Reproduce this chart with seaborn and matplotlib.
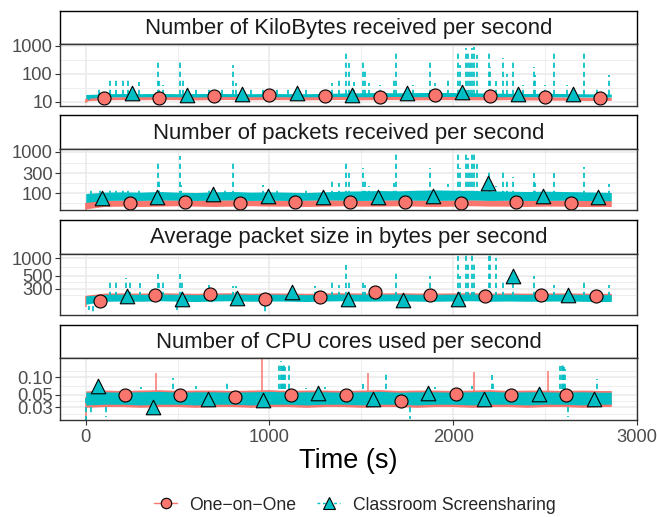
import numpy as np
import pandas as pd
import matplotlib
matplotlib.use("Agg")
import matplotlib.pyplot as plt
from matplotlib.lines import Line2D
import seaborn as sns

sns.set_theme(style="white")
plt.rcParams["font.family"] = ["Liberation Sans", "DejaVu Sans"]

RED = "#F8766D"
CYAN = "#00BFC4"

# ---------------- data ----------------
titles = ["Number of KiloBytes received per second",
          "Number of packets received per second",
          "Average packet size in bytes per second",
          "Number of CPU cores used per second"]
series = ["One\u2212on\u2212One", "Classroom Screensharing"]

x_ticks = [0, 1000, 2000, 3000]
x_ticklabels = ["0", "1000", "2000", "3000"]
y_ticks = [[10, 100, 1000], [100, 300, 1000], [300, 500, 1000], [0.03, 0.05, 0.10]]
y_ticklabels = [["10", "100", "1000"], ["100", "300", "1000"],
                ["300", "500", "1000"], ["0.03", "0.05", "0.10"]]

band_t = [0, 100, 200, 300, 400, 500, 600, 700, 800, 900, 1000, 1100, 1200, 1300, 1400,
          1500, 1600, 1700, 1800, 1900, 2000, 2100, 2200, 2300, 2400, 2500, 2600, 2700, 2800, 2860]

# Panel 1: KiloBytes
p1_red_low = [10.8, 11.6, 11.9, 11.7, 12.0, 11.8, 11.6, 11.9, 12.0, 11.7, 11.9, 11.8, 11.6, 11.9, 12.0,
              11.7, 11.8, 11.9, 11.6, 11.8, 11.9, 11.7, 11.6, 11.8, 11.5, 11.4, 11.3, 11.1, 11.0, 11.2]
p1_red_high = [14.5, 15.0, 15.2, 15.5, 15.3, 15.6, 15.4, 15.2, 15.5, 15.8, 15.5, 15.3, 15.6, 15.5, 15.4,
               15.6, 15.8, 15.5, 15.6, 15.3, 15.5, 15.7, 15.4, 15.5, 15.2, 15.0, 14.8, 14.6, 14.5, 14.5]
p1_cyan_low = [13.0, 14.8, 15.1, 14.9, 15.2, 15.0, 14.8, 15.1, 15.3, 15.0, 15.2, 15.0, 14.9, 15.1, 15.3,
               15.0, 15.2, 15.4, 15.1, 15.2, 15.4, 15.3, 15.0, 15.2, 15.1, 15.0, 14.9, 14.8, 14.7, 14.6]
p1_cyan_high = [18.0, 19.2, 19.6, 19.4, 19.8, 19.3, 19.5, 19.8, 19.4, 19.3, 19.6, 19.4, 19.3, 19.8, 20.5,
                20.8, 21.2, 20.8, 21.2, 21.6, 21.2, 20.8, 20.4, 20.0, 19.6, 20.0, 19.6, 19.2, 19.0, 18.8]
p1_red_spike_t = [0, 5]
p1_red_spike_v = [9.0, 10.0]
p1_cyan_spike_t = [20, 74, 132, 165, 201, 231, 292, 392, 400, 422, 513, 528, 600, 671, 740, 803, 820,
                   900, 967, 1040, 1100, 1200, 1339, 1381, 1417, 1430, 1460, 1508, 1520, 1544, 1600,
                   1675, 1689, 1780, 1874, 1900, 1969, 2025, 2038, 2069, 2078, 2090, 2101, 2115,
                   2128, 2195, 2201, 2233, 2270, 2292, 2324, 2380, 2437, 2446, 2500, 2546, 2620,
                   2709, 2780, 2850]
p1_cyan_spike_v = [8.0, 31, 60, 58, 60, 58, 50, 268, 55, 40, 330, 60, 32, 35, 30, 205, 45,
                   30, 30, 35, 30, 32, 45, 60, 610, 234, 50, 309, 150, 45, 40,
                   78, 610, 40, 309, 45, 60, 610, 200, 800, 650, 300, 800, 920,
                   450, 700, 180, 55, 355, 100, 309, 40, 178, 90, 40, 610, 40,
                   535, 35, 90]
p1_red_mark_t = [100, 400, 700, 1000, 1300, 1600, 1900, 2200, 2500, 2800]
p1_red_mark_v = [13.9, 13.9, 15.6, 16.9, 15.6, 14.4, 17.8, 16.0, 15.0, 13.9]
p1_cyan_mark_t = [250, 550, 850, 1150, 1450, 1750, 2050, 2350, 2650]
p1_cyan_mark_v = [21.0, 17.4, 18.6, 19.8, 17.4, 21.0, 22.0, 18.8, 19.0]

# Panel 2: packets
p2_red_low = [42, 48, 49, 48, 49, 50, 49, 48, 49, 50, 49, 49, 48, 49, 50,
              49, 49, 50, 49, 48, 49, 50, 49, 49, 48, 49, 49, 48, 48, 48]
p2_red_high = [64, 68, 69, 68, 70, 69, 68, 69, 70, 68, 69, 68, 69, 70, 69,
               68, 69, 70, 69, 68, 69, 70, 68, 69, 68, 68, 69, 68, 67, 67]
p2_cyan_low = [60, 67, 68, 67, 69, 68, 67, 68, 69, 67, 68, 67, 68, 69, 68,
               67, 68, 69, 68, 67, 68, 69, 67, 68, 67, 67, 68, 67, 66, 66]
p2_cyan_high = [98, 106, 108, 106, 110, 106, 104, 108, 110, 106, 108, 106, 104, 108, 112,
                114, 116, 114, 118, 120, 118, 116, 114, 112, 110, 112, 110, 108, 106, 104]
p2_red_spike_t = [0, 4]
p2_red_spike_v = [38, 42]
p2_cyan_spike_t = [30, 75, 130, 165, 201, 231, 292, 392, 398, 400, 513, 520, 671, 760, 803, 967,
                   1040, 1200, 1339, 1381, 1417, 1430, 1508, 1520, 1544, 1675, 1689, 1874, 1969,
                   2025, 2038, 2069, 2078, 2090, 2101, 2115, 2128, 2195, 2201, 2233, 2270, 2292,
                   2324, 2437, 2446, 2546, 2709, 2850]
p2_cyan_spike_v = [125, 130, 135, 128, 130, 128, 125, 525, 210, 150, 790, 160, 125, 140, 630, 158,
                   130, 125, 200, 180, 620, 300, 400, 200, 150, 180, 930, 400, 170,
                   1000, 400, 950, 700, 350, 1000, 1050, 500, 380, 200, 150, 330, 200,
                   250, 300, 180, 300, 420, 170]
p2_red_mark_t = [240, 540, 840, 1140, 1440, 1740, 2040, 2340, 2640]
p2_red_mark_v = [59, 62, 57.5, 62, 60, 60, 59, 60, 58]
p2_cyan_mark_t = [90, 390, 690, 990, 1290, 1590, 1890, 2190, 2490, 2790]
p2_cyan_mark_v = [76, 80, 96, 86, 80, 81, 85, 178, 85, 82]

# Panel 3: average packet size
p3_red_low = [175, 200, 203, 201, 205, 202, 200, 203, 205, 201, 203, 202, 200, 203, 205,
              202, 203, 205, 202, 201, 203, 205, 202, 203, 201, 202, 203, 201, 200, 200]
p3_red_high = [235, 255, 258, 255, 259, 256, 253, 257, 259, 255, 257, 256, 253, 257, 259,
               256, 257, 259, 256, 255, 257, 259, 255, 257, 255, 256, 257, 255, 253, 253]
p3_cyan_low = [165, 185, 187, 185, 189, 186, 183, 187, 189, 185, 187, 186, 183, 187, 189,
               186, 187, 189, 186, 185, 187, 189, 185, 187, 185, 186, 187, 185, 183, 183]
p3_cyan_high = [228, 242, 245, 242, 246, 243, 240, 244, 246, 242, 245, 243, 240, 244, 246,
                243, 245, 246, 243, 242, 245, 246, 242, 244, 242, 243, 245, 242, 240, 240]
p3_red_spike_t = [0]
p3_red_spike_v = [150]
p3_cyan_spike_t = [20, 41, 132, 165, 219, 241, 296, 392, 400, 422, 495, 513, 522, 671, 686, 804, 820,
                   976, 1245, 1339, 1381, 1417, 1430, 1508, 1520, 1689, 1874, 2025, 2038, 2069,
                   2078, 2101, 2115, 2195, 2201, 2233, 2270, 2324, 2437, 2546, 2709, 2850]
p3_cyan_spike_v = [130, 123, 400, 400, 470, 450, 375, 534, 380, 420, 131, 534, 400, 350, 160, 340, 340,
                   123, 340, 400, 350, 760, 420, 450, 350, 600, 500, 1100, 500, 1240,
                   900, 1240, 800, 1100, 1240, 1000, 400, 380, 500, 350, 400, 350]
p3_red_mark_t = [75, 375, 675, 975, 1275, 1575, 1875, 2175, 2475, 2775]
p3_red_mark_v = [187, 237, 243, 200, 216, 262, 238, 232, 240, 232]
p3_cyan_mark_t = [225, 525, 825, 1125, 1425, 1725, 2025, 2325, 2625]
p3_cyan_mark_v = [231, 202, 208, 263, 205, 196, 200, 500, 240]

# Panel 4: CPU cores
p4_red_low = [0.030, 0.031, 0.031, 0.030, 0.031, 0.031, 0.030, 0.031, 0.031, 0.030, 0.031, 0.031,
              0.030, 0.031, 0.031, 0.030, 0.031, 0.031, 0.030, 0.031, 0.031, 0.030, 0.031, 0.031,
              0.030, 0.031, 0.031, 0.030, 0.031, 0.031]
p4_red_high = [0.058, 0.060, 0.059, 0.060, 0.061, 0.059, 0.060, 0.060, 0.059, 0.060, 0.061, 0.059,
               0.060, 0.060, 0.059, 0.060, 0.061, 0.059, 0.060, 0.060, 0.059, 0.060, 0.061, 0.059,
               0.060, 0.060, 0.059, 0.060, 0.059, 0.059]
p4_cyan_low = [0.033, 0.034, 0.034, 0.033, 0.034, 0.034, 0.033, 0.034, 0.034, 0.033, 0.034, 0.034,
               0.033, 0.034, 0.034, 0.033, 0.034, 0.034, 0.033, 0.034, 0.034, 0.033, 0.034, 0.034,
               0.033, 0.034, 0.034, 0.033, 0.034, 0.034]
p4_cyan_high = [0.055, 0.056, 0.055, 0.056, 0.057, 0.055, 0.056, 0.056, 0.055, 0.056, 0.057, 0.055,
                0.056, 0.056, 0.055, 0.056, 0.057, 0.055, 0.056, 0.056, 0.055, 0.056, 0.057, 0.055,
                0.056, 0.056, 0.055, 0.056, 0.055, 0.055]
p4_red_spike_t = [0, 383, 958, 1535, 2114, 2513]
p4_red_spike_v = [0.018, 0.12, 0.21, 0.12, 0.125, 0.13]
p4_cyan_spike_t = [0, 30, 111, 300, 473, 600, 767, 1054, 1060, 1066, 1072, 1080, 1086, 1107,
                   1200, 1300, 1511, 1635, 1766, 1900, 2100, 2210, 2218, 2582, 2590, 2597, 2604,
                   2610, 2626, 2782]
p4_cyan_spike_v = [0.018, 0.022, 0.020, 0.068, 0.097, 0.070, 0.084, 0.17, 0.19, 0.16, 0.18, 0.17,
                   0.15, 0.18, 0.065, 0.068, 0.075, 0.12, 0.019, 0.068, 0.070, 0.11, 0.08, 0.16,
                   0.17, 0.18, 0.15, 0.14, 0.020, 0.095]
p4_red_mark_t = [215, 515, 815, 1115, 1415, 1715, 2015, 2315, 2615]
p4_red_mark_v = [0.049, 0.049, 0.045, 0.049, 0.049, 0.0387, 0.0513, 0.049, 0.050]
p4_cyan_mark_t = [65, 365, 665, 965, 1265, 1565, 1865, 2165, 2465, 2765]
p4_cyan_mark_v = [0.0714, 0.0308, 0.0413, 0.040, 0.0526, 0.042, 0.054, 0.042, 0.051, 0.042]

panels = [
    dict(rl=p1_red_low, rh=p1_red_high, cl=p1_cyan_low, ch=p1_cyan_high,
         rst=p1_red_spike_t, rsv=p1_red_spike_v, cst=p1_cyan_spike_t, csv=p1_cyan_spike_v,
         rmt=p1_red_mark_t, rmv=p1_red_mark_v, cmt=p1_cyan_mark_t, cmv=p1_cyan_mark_v,
         rbase=13.0, cbase=17.0, ylim=(10 ** 0.854, 10 ** 3.054)),
    dict(rl=p2_red_low, rh=p2_red_high, cl=p2_cyan_low, ch=p2_cyan_high,
         rst=p2_red_spike_t, rsv=p2_red_spike_v, cst=p2_cyan_spike_t, csv=p2_cyan_spike_v,
         rmt=p2_red_mark_t, rmv=p2_red_mark_v, cmt=p2_cyan_mark_t, cmv=p2_cyan_mark_v,
         rbase=58.0, cbase=85.0, ylim=(10 ** 1.587, 10 ** 3.068)),
    dict(rl=p3_red_low, rh=p3_red_high, cl=p3_cyan_low, ch=p3_cyan_high,
         rst=p3_red_spike_t, rsv=p3_red_spike_v, cst=p3_cyan_spike_t, csv=p3_cyan_spike_v,
         rmt=p3_red_mark_t, rmv=p3_red_mark_v, cmt=p3_cyan_mark_t, cmv=p3_cyan_mark_v,
         rbase=225.0, cbase=215.0, ylim=(10 ** 2.032, 10 ** 3.081)),
    dict(rl=p4_red_low, rh=p4_red_high, cl=p4_cyan_low, ch=p4_cyan_high,
         rst=p4_red_spike_t, rsv=p4_red_spike_v, cst=p4_cyan_spike_t, csv=p4_cyan_spike_v,
         rmt=p4_red_mark_t, rmv=p4_red_mark_v, cmt=p4_cyan_mark_t, cmv=p4_cyan_mark_v,
         rbase=0.045, cbase=0.044, ylim=(10 ** -1.740, 10 ** -0.667)),
]

# ---------------- layout ----------------
W, H = 657, 517
fig = plt.figure(figsize=(W / 100, H / 100), dpi=100)
L, R = 60, 637
strip_tops = [10.7, 115.3, 220.0, 324.7]
strip_h = 33.5
panel_h = 61.6
GRID = "#EBEBEB"
BORDER = "#333333"
TICKC = "#4D4D4D"
DASH = (0, (3.0, 2.2))


def minor_breaks(ticks, lims):
    b = list(np.log10(ticks))
    bd = b[1] - b[0]
    lo, hi = np.log10(lims)
    if lo < b[0]:
        b = [b[0] - bd] + b
    if hi > b[-1]:
        b = b + [b[-1] + bd]
    mids = [(a + c) / 2 for a, c in zip(b[:-1], b[1:])]
    return [10 ** m for m in mids if lo < m < hi]


for i, (title, p) in enumerate(zip(titles, panels)):
    top = strip_tops[i]
    sax = fig.add_axes([L / W, 1 - (top + strip_h) / H, (R - L) / W, strip_h / H])
    sax.set_facecolor("white")
    sax.set_xticks([]); sax.set_yticks([])
    for s in sax.spines.values():
        s.set_color("black"); s.set_linewidth(1.0)
    sax.text(0.5, 0.47, title, ha="center", va="center", fontsize=15.9, color="#1A1A1A",
             transform=sax.transAxes)

    ax = fig.add_axes([L / W, 1 - (top + strip_h + panel_h) / H, (R - L) / W, panel_h / H])
    ax.set_facecolor("white")
    ax.set_yscale("log")
    ax.set_xlim(-140, 3000)
    ax.set_ylim(*p["ylim"])

    # grid
    for xm in [500, 1500, 2500]:
        ax.axvline(xm, color=GRID, lw=0.6, zorder=0)
    for ym in minor_breaks(y_ticks[i], p["ylim"]):
        ax.axhline(ym, color=GRID, lw=0.6, zorder=0)
    for xm in x_ticks:
        ax.axvline(xm, color=GRID, lw=1.2, zorder=0)
    for ym in y_ticks[i]:
        ax.axhline(ym, color=GRID, lw=1.2, zorder=0)

    # One-on-One (red, solid)
    ax.fill_between(band_t, p["rl"], p["rh"], color=RED, lw=0, zorder=1)
    ax.vlines(p["rst"], p["rbase"], p["rsv"], colors=RED, linestyles="solid", lw=1.1, zorder=1)
    # Classroom Screensharing (cyan, dashed)
    ax.fill_between(band_t, p["cl"], p["ch"], color=CYAN, lw=0, zorder=2)
    ax.vlines(p["cst"], p["cbase"], p["csv"], colors=CYAN, linestyles=[DASH], lw=1.25, zorder=2)

    red_df = pd.DataFrame({"t": p["rmt"], "v": p["rmv"]})
    cyan_df = pd.DataFrame({"t": p["cmt"], "v": p["cmv"]})
    sns.scatterplot(data=red_df, x="t", y="v", marker="o", color=RED, edgecolor="black",
                    linewidth=0.8, s=88, ax=ax, zorder=5, legend=False)
    sns.scatterplot(data=cyan_df, x="t", y="v", marker="^", color=CYAN, edgecolor="black",
                    linewidth=0.8, s=110, ax=ax, zorder=6, legend=False)
    ax.set_xlabel(""); ax.set_ylabel("")

    ax.yaxis.set_minor_locator(matplotlib.ticker.NullLocator())
    ax.set_yticks(y_ticks[i])
    ax.set_yticklabels(y_ticklabels[i])
    ax.tick_params(axis="y", which="major", left=True, length=3.8, width=0.8, color=BORDER,
                   labelsize=13.2, labelcolor=TICKC, pad=1.5)
    ax.xaxis.set_minor_locator(matplotlib.ticker.NullLocator())
    ax.set_xticks(x_ticks)
    if i == 3:
        ax.set_xticklabels(x_ticklabels)
        ax.tick_params(axis="x", which="major", bottom=True, length=3.8, width=0.8, color=BORDER,
                       labelsize=13.2, labelcolor=TICKC, pad=2.5)
        ax.set_xlabel("Time (s)", fontsize=19.5, color="black", labelpad=2)
    else:
        ax.tick_params(axis="x", which="both", bottom=False, labelbottom=False)
    for s in ax.spines.values():
        s.set_color(BORDER); s.set_linewidth(1.0); s.set_zorder(10)

handles = [
    Line2D([0], [0], color=RED, lw=1.0, ls="-", marker="o", markerfacecolor=RED,
           markeredgecolor="black", markeredgewidth=0.8, markersize=7.5),
    Line2D([0], [0], color=CYAN, lw=1.0, ls=(0, (2, 2)), marker="^", markerfacecolor=CYAN,
           markeredgecolor="black", markeredgewidth=0.8, markersize=8.5),
]
fig.legend(handles, series, loc="center", bbox_to_anchor=(0.54, 1 - 505 / H), ncol=2,
           frameon=False, fontsize=12.7, handlelength=1.3, columnspacing=1.2,
           handletextpad=0.7)

fig.savefig("out.png", dpi=100)
